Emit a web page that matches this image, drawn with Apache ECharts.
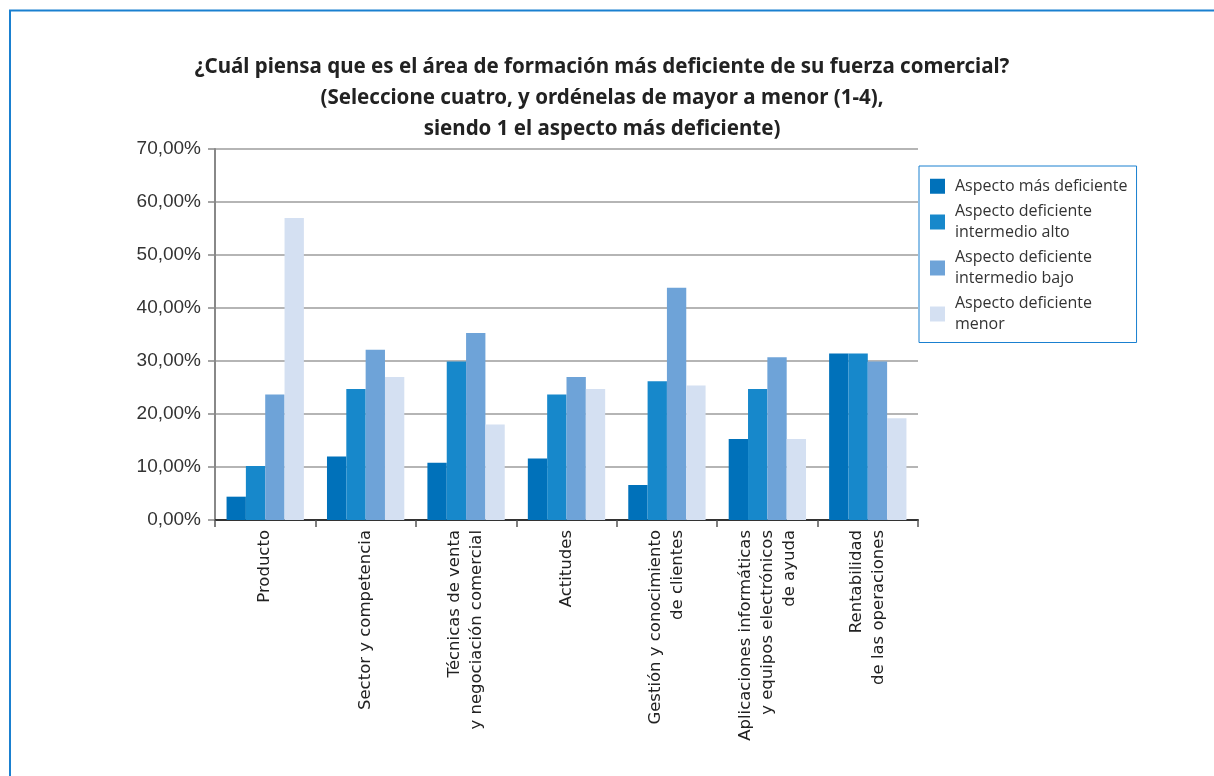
<!DOCTYPE html>
<html>
<head>
<meta charset="utf-8">
<script src="https://cdn.jsdelivr.net/npm/echarts@6/dist/echarts.min.js"></script>
<style>
html,body{margin:0;padding:0;background:#fff;}
#chart{width:1214px;height:776px;}
</style>
</head>
<body>
<div id="chart"></div>
<script>
const categories = [
  'Producto',
  'Sector y competencia',
  'Técnicas de venta\ny negociación comercial',
  'Actitudes',
  'Gestión y conocimiento\nde clientes',
  'Aplicaciones informáticas\ny equipos electrónicos\nde ayuda',
  'Rentabilidad\nde las operaciones'
];
const seriesNames = [
  'Aspecto más deficiente',
  'Aspecto deficiente intermedio alto',
  'Aspecto deficiente intermedio bajo',
  'Aspecto deficiente menor'
];
const legendLabels = [
  'Aspecto más deficiente',
  'Aspecto deficiente\nintermedio alto',
  'Aspecto deficiente\nintermedio bajo',
  'Aspecto deficiente\nmenor'
];
const masDeficiente      = [4.4, 12.0, 10.8, 11.6, 6.6, 15.3, 31.4];
const intermedioAlto     = [10.2, 24.7, 29.9, 23.7, 26.2, 24.7, 31.4];
const intermedioBajo     = [23.7, 32.1, 35.3, 27.0, 43.8, 30.7, 29.9];
const menor              = [57.0, 27.0, 18.0, 24.7, 25.4, 15.3, 19.2];
const colors = ['#0071BA', '#1788CB', '#6EA3D8', '#D4E0F2'];
const seriesValues = [masDeficiente, intermedioAlto, intermedioBajo, menor];

const chart = echarts.init(document.getElementById('chart'));
chart.setOption({
  animation: false,
  backgroundColor: '#fff',
  graphic: [{
    type: 'polyline',
    shape: { points: [[10, 780], [10, 10.5], [1220, 10.5]] },
    style: { stroke: '#1A80D0', lineWidth: 2, fill: null }
  }],
  title: {
    text: '¿Cuál piensa que es el área de formación más deficiente de su fuerza comercial?\n(Seleccione cuatro, y ordénelas de mayor a menor (1-4),\nsiendo 1 el aspecto más deficiente)',
    left: 597,
    top: 47,
    textAlign: 'center',
    textStyle: {
      fontFamily: 'Noto Sans',
      fontWeight: 'bold',
      fontSize: 20.5,
      lineHeight: 31,
      color: '#222'
    }
  },
  legend: {
    orient: 'vertical',
    left: 919,
    top: 166,
    padding: [10, 9, 8, 11],
    itemGap: 5,
    itemWidth: 15,
    itemHeight: 15,
    icon: 'rect',
    borderColor: '#1A80D0',
    borderWidth: 1,
    data: seriesNames,
    formatter: function (name) { return legendLabels[seriesNames.indexOf(name)]; },
    textStyle: {
      fontFamily: 'Open Sans',
      fontSize: 16,
      lineHeight: 20.5,
      color: '#333',
      padding: [0, 0, 0, 5]
    }
  },
  grid: { left: 215, right: 296, top: 149, bottom: 256, containLabel: false },
  xAxis: {
    type: 'category',
    data: categories,
    axisLine: { show: true, lineStyle: { color: '#333', width: 2 } },
    axisTick: { show: true, length: 7, lineStyle: { color: '#555', width: 1.5 } },
    axisLabel: {
      rotate: 90,
      interval: 0,
      margin: 10,
      fontFamily: 'DejaVu Sans',
      fontSize: 16.5,
      lineHeight: 22,
      color: '#222'
    }
  },
  yAxis: {
    type: 'value',
    min: 0,
    max: 70,
    interval: 10,
    axisLine: { show: true, lineStyle: { color: '#888', width: 2 } },
    axisTick: { show: true, length: 7, lineStyle: { color: '#888', width: 1.5 } },
    splitLine: { show: true, lineStyle: { color: '#B5B5B5', width: 2 } },
    axisLabel: {
      margin: 14,
      fontFamily: 'Liberation Sans',
      fontSize: 19,
      color: '#333',
      formatter: function (v) { return v.toFixed(2).replace('.', ',') + '%'; }
    }
  },
  series: seriesNames.map(function (n, i) {
    return {
      name: n,
      type: 'bar',
      data: seriesValues[i],
      itemStyle: { color: colors[i] },
      barGap: '0%',
      barCategoryGap: '23%'
    };
  })
});
</script>
</body>
</html>
